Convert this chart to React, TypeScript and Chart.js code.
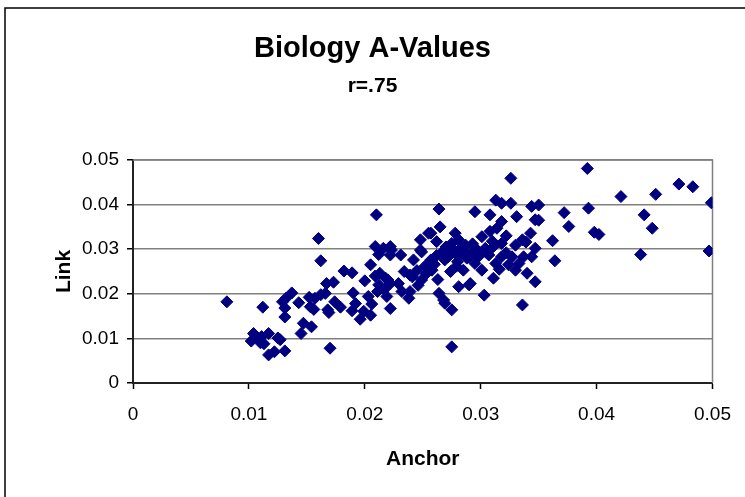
import React, { useEffect, useRef } from "react";
import { Chart, registerables } from "chart.js";

Chart.register(...registerables);

const chartTitle = "Biology A-Values";
const chartSubtitle = "r=.75";
const xAxisTitle = "Anchor";
const yAxisTitle = "Link";
const xTickLabels = ["0", "0.01", "0.02", "0.03", "0.04", "0.05"];
const yTickLabels = ["0", "0.01", "0.02", "0.03", "0.04", "0.05"];

const anchorValues = [
  0.0081, 0.0102, 0.0104, 0.0107, 0.0110, 0.0111, 0.0113, 0.0117, 0.0117, 0.0122,
  0.0125, 0.0127, 0.0131, 0.0112, 0.0129, 0.0132, 0.0131, 0.0131, 0.0137, 0.0143,
  0.0145, 0.0147, 0.0154, 0.0152, 0.0153, 0.0156, 0.0160, 0.0162, 0.0162, 0.0166,
  0.0167, 0.0168, 0.0169, 0.0170, 0.0173, 0.0174, 0.0179, 0.0182, 0.0189, 0.0189,
  0.0190, 0.0196, 0.0200, 0.0205, 0.0203, 0.0205, 0.0206, 0.0210, 0.0209, 0.0212,
  0.0209, 0.0213, 0.0212, 0.0211, 0.0216, 0.0217, 0.0218, 0.0220, 0.0222, 0.0223,
  0.0222, 0.0219, 0.0222, 0.0222, 0.0229, 0.0231, 0.0232, 0.0234, 0.0238, 0.0239,
  0.0242, 0.0239, 0.0248, 0.0248, 0.0249, 0.0241, 0.0255, 0.0264, 0.0265, 0.0257,
  0.0262, 0.0278, 0.0281, 0.0275, 0.0287, 0.0249, 0.0267, 0.0272, 0.0284, 0.0257,
  0.0269, 0.0280, 0.0290, 0.0258, 0.0274, 0.0285, 0.0290, 0.0281, 0.0264, 0.0268,
  0.0269, 0.0275, 0.0275, 0.0326, 0.0313, 0.0318, 0.0326, 0.0344, 0.0295, 0.0308,
  0.0331, 0.0318, 0.0347, 0.0314, 0.0308, 0.0301, 0.0343, 0.0336, 0.0318, 0.0294,
  0.0304, 0.0311, 0.0330, 0.0347, 0.0291, 0.0298, 0.0307, 0.0318, 0.0327, 0.0337,
  0.0344, 0.0295, 0.0313, 0.0324, 0.0333, 0.0301, 0.0330, 0.0340, 0.0311, 0.0347,
  0.0291, 0.0303, 0.0336, 0.0392, 0.0350, 0.0350, 0.0372, 0.0376, 0.0362, 0.0364,
  0.0393, 0.0398, 0.0402, 0.0421, 0.0441, 0.0448, 0.0438, 0.0451, 0.0471, 0.0483,
  0.0499, 0.0497, 0.0270, 0.0276, 0.0283, 0.0286, 0.0279, 0.0272, 0.0288, 0.0262,
  0.0252, 0.0245, 0.0260, 0.0246, 0.0253, 0.0293, 0.0299, 0.0305, 0.0322, 0.0316,
  0.0322, 0.0310, 0.0263, 0.0279, 0.0339, 0.0192, 0.0199, 0.0157,
];

const linkValues = [
  0.0182, 0.0094, 0.0111, 0.0103, 0.0090, 0.0104, 0.0088, 0.0111, 0.0063, 0.0070,
  0.0101, 0.0097, 0.0072, 0.0170, 0.0182, 0.0190, 0.0168, 0.0148, 0.0202, 0.0180,
  0.0111, 0.0134, 0.0126, 0.0192, 0.0171, 0.0165, 0.0324, 0.0274, 0.0198, 0.0201,
  0.0223, 0.0164, 0.0158, 0.0078, 0.0226, 0.0182, 0.0170, 0.0251, 0.0247, 0.0162,
  0.0202, 0.0143, 0.0229, 0.0265, 0.0194, 0.0152, 0.0177, 0.0377, 0.0306, 0.0288,
  0.0240, 0.0246, 0.0220, 0.0205, 0.0302, 0.0210, 0.0235, 0.0231, 0.0306, 0.0298,
  0.0287, 0.0194, 0.0167, 0.0223, 0.0223, 0.0287, 0.0205, 0.0250, 0.0190, 0.0205,
  0.0276, 0.0242, 0.0321, 0.0298, 0.0231, 0.0238, 0.0336, 0.0390, 0.0350, 0.0336,
  0.0317, 0.0336, 0.0321, 0.0313, 0.0309, 0.0294, 0.0294, 0.0291, 0.0291, 0.0276,
  0.0276, 0.0272, 0.0283, 0.0253, 0.0250, 0.0253, 0.0220, 0.0216, 0.0201, 0.0186,
  0.0179, 0.0164, 0.0081, 0.0459, 0.0410, 0.0403, 0.0403, 0.0396, 0.0384, 0.0377,
  0.0373, 0.0362, 0.0366, 0.0347, 0.0340, 0.0328, 0.0336, 0.0321, 0.0313, 0.0306,
  0.0302, 0.0306, 0.0309, 0.0302, 0.0287, 0.0283, 0.0287, 0.0283, 0.0283, 0.0283,
  0.0283, 0.0268, 0.0268, 0.0265, 0.0268, 0.0253, 0.0253, 0.0246, 0.0235, 0.0227,
  0.0223, 0.0197, 0.0175, 0.0481, 0.0399, 0.0365, 0.0382, 0.0351, 0.0319, 0.0274,
  0.0392, 0.0338, 0.0333, 0.0418, 0.0377, 0.0347, 0.0288, 0.0423, 0.0446, 0.0440,
  0.0404, 0.0296, 0.0305, 0.0300, 0.0303, 0.0296, 0.0288, 0.0283, 0.0280, 0.0286,
  0.0262, 0.0252, 0.0266, 0.0219, 0.0245, 0.0312, 0.0293, 0.0292, 0.0292, 0.0255,
  0.0330, 0.0318, 0.0232, 0.0262, 0.0316, 0.0178, 0.0161, 0.0190,
];

const FONT = "'Liberation Sans', Arial, Helvetica, sans-serif";

const framePlugin = {
  id: "excelFrame",
  beforeDraw(chart: any) {
    const { ctx, width, height } = chart;
    ctx.save();
    ctx.fillStyle = "#ffffff";
    ctx.fillRect(0, 0, width, height);
    ctx.strokeStyle = "#000000";
    ctx.lineWidth = 1.5;
    ctx.strokeRect(5, 8, width + 20, height + 20);
    ctx.restore();
  },
  beforeDatasetsDraw(chart: any) {
    const { ctx, chartArea } = chart;
    ctx.save();
    ctx.strokeStyle = "#808080";
    ctx.lineWidth = 1.5;
    ctx.beginPath();
    ctx.moveTo(chartArea.left, chartArea.top);
    ctx.lineTo(chartArea.right, chartArea.top);
    ctx.lineTo(chartArea.right, chartArea.bottom);
    ctx.stroke();
    ctx.restore();
  },
};

export default function App() {
  const canvasRef = useRef<HTMLCanvasElement | null>(null);

  useEffect(() => {
    if (!canvasRef.current) return;
    const points = anchorValues.map((x, i) => ({ x, y: linkValues[i] }));
    const chart = new Chart(canvasRef.current, {
      type: "scatter",
      data: {
        datasets: [
          {
            label: "Link vs Anchor",
            data: points,
            pointStyle: "rectRot",
            pointRadius: 6,
            pointHoverRadius: 6,
            backgroundColor: "#000080",
            borderColor: "#000080",
            borderWidth: 1,
          },
        ],
      },
      options: {
        animation: false,
        responsive: false,
        maintainAspectRatio: false,
        devicePixelRatio: 1,
        layout: { padding: { left: 0, right: 0, top: 0, bottom: 0 } },
        plugins: {
          legend: { display: false },
          tooltip: { enabled: false },
          title: {
            display: true,
            text: chartTitle,
            color: "#000000",
            font: { family: FONT, size: 29, weight: "bold", lineHeight: 1.2 },
            padding: { top: 31.6, bottom: 7 },
          },
          subtitle: {
            display: true,
            text: chartSubtitle,
            color: "#000000",
            font: { family: FONT, size: 21, weight: "bold", lineHeight: 1.2 },
            padding: { top: 0, bottom: 61.4 },
          },
        },
        scales: {
          x: {
            type: "linear",
            min: 0,
            max: 0.05,
            afterFit(scale: any) {
              scale.height = 114;
            },
            ticks: {
              stepSize: 0.01,
              color: "#000000",
              padding: 14,
              font: { family: FONT, size: 19 },
              callback: (_v: any, i: number) => xTickLabels[i],
            },
            grid: {
              drawOnChartArea: false,
              drawTicks: true,
              tickLength: 6,
              tickColor: "#000000",
              tickWidth: 1.5,
            },
            border: { display: true, color: "#222222", width: 2 },
            title: {
              display: true,
              text: xAxisTitle,
              color: "#000000",
              font: { family: FONT, size: 21, weight: "bold", lineHeight: 1.2 },
              padding: { top: 22.6, bottom: 25.4 },
            },
          },
          y: {
            type: "linear",
            min: 0,
            max: 0.05,
            afterFit(scale: any) {
              scale.width = 133;
            },
            ticks: {
              stepSize: 0.01,
              color: "#000000",
              padding: 8,
              font: { family: FONT, size: 19 },
              callback: (_v: any, i: number) => yTickLabels[i],
            },
            grid: {
              color: "#808080",
              lineWidth: 1.5,
              drawTicks: true,
              tickLength: 6,
              tickColor: "#000000",
              tickWidth: 1.5,
            },
            border: { display: true, color: "#222222", width: 2 },
            title: {
              display: true,
              text: yAxisTitle,
              color: "#000000",
              font: { family: FONT, size: 21, weight: "bold", lineHeight: 1.2 },
              padding: { top: 52, bottom: 0 },
            },
          },
          spacer: {
            type: "linear",
            position: "right",
            display: true,
            afterFit(scale: any) {
              scale.width = 30;
            },
            ticks: { display: false },
            grid: { display: false, drawTicks: false },
            border: { display: false },
            title: { display: false },
          },
        },
      },
      plugins: [framePlugin],
    });
    return () => chart.destroy();
  }, []);

  return (
    <div
      style={{
        position: "fixed",
        left: 0,
        top: 0,
        width: 745,
        height: 497,
        overflow: "hidden",
        background: "#ffffff",
      }}
    >
      <canvas
        ref={canvasRef}
        width={745}
        height={497}
        style={{ display: "block", width: 745, height: 497 }}
      />
    </div>
  );
}
